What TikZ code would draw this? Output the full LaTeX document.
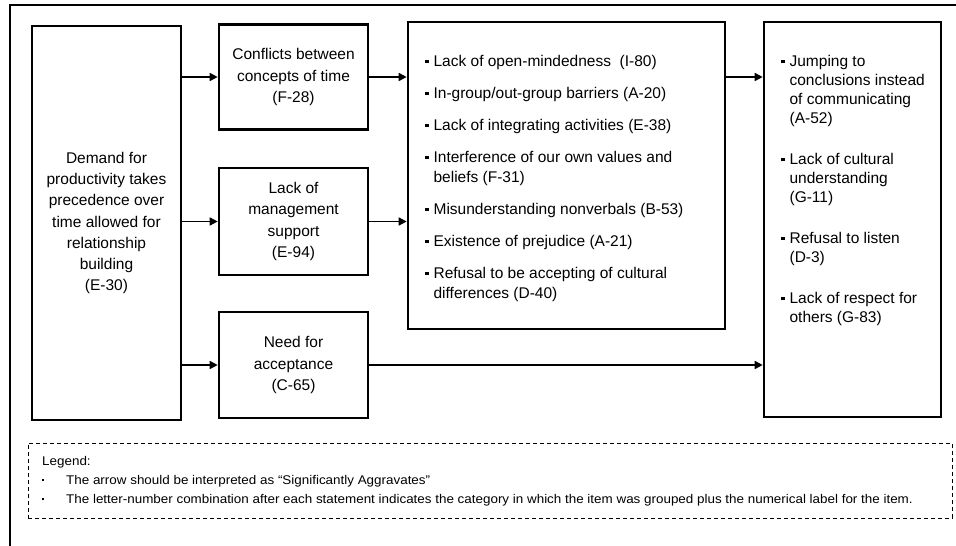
\documentclass[tikz,border=0pt]{standalone}
\usepackage{fontspec}
\setmainfont{Liberation Sans}
\newfontfamily\legendfamily[FakeStretch=1.065]{Liberation Sans}
\usetikzlibrary{arrows.meta}

% type sizes used in the chart
\newcommand\boxfont{\fontsize{15.5}{21.3}\selectfont}
\newcommand\listfont{\fontsize{15.5}{20}\selectfont}
\newcommand\sidefont{\fontsize{15.5}{19}\selectfont}
\newcommand\legfont{\legendfamily\fontsize{12.6}{19}\selectfont}
% small square bullet and the matching hanging indent
\newcommand\sqb{\raisebox{2.8pt}{\rule{3.4pt}{3.4pt}}\hspace{5pt}}
\newcommand\hangin{\hspace*{8.4pt}}
\newcommand\legb{\makebox[24pt][l]{\raisebox{3pt}{\rule{2.2pt}{2.2pt}}}}

\begin{document}
\begin{tikzpicture}[x=1pt,y=-1pt,
  box/.style={draw, line width=2.6pt, inner sep=0pt, align=center, font=\boxfont},
  listtext/.style={anchor=north west, inner sep=0pt, align=left},
  arr/.style={line width=1.5pt, -{Triangle[length=8pt,width=8pt]}},
  frame/.style={line width=2pt},
  legendbox/.style={draw, line width=1pt, dash pattern=on 4pt off 3pt, inner sep=0pt}]

\useasboundingbox (0,0) rectangle (956,546);
\fill[white] (0,0) rectangle (956,546);

% outer frame (runs off the page on the right and at the bottom)
\draw[frame] (10,560) -- (10,5) -- (970,5);

% cause boxes
\node[box, minimum width=149pt, minimum height=394pt] (demand) at (106.5,223)
  {Demand for\\productivity takes\\precedence over\\time allowed for\\relationship\\building\\(E-30)};
\node[box, minimum width=149pt, minimum height=105pt] (conflict) at (293.5,77)
  {Conflicts between\\concepts of time\\(F-28)};
\node[box, minimum width=149pt, minimum height=107pt] (mgmt) at (293.5,221.5)
  {Lack of\\management\\support\\(E-94)};
\node[box, minimum width=149pt, minimum height=106pt] (accept) at (293.5,365)
  {Need for\\acceptance\\(C-65)};

% barrier list
\node[box, minimum width=317pt, minimum height=307pt] (barriers) at (566.5,175.5) {};
\node[listtext, font=\listfont] (barrierlist) at (425,54.7)
  {\sqb Lack of open-mindedness\ \ (I-80)\\[12pt]
   \sqb In-group/out-group barriers (A-20)\\[12pt]
   \sqb Lack of integrating activities (E-38)\\[12pt]
   \sqb Interference of our own values and\\
   \hangin beliefs (F-31)\\[12pt]
   \sqb Misunderstanding nonverbals (B-53)\\[12pt]
   \sqb Existence of prejudice (A-21)\\[12pt]
   \sqb Refusal to be accepting of cultural\\
   \hangin differences (D-40)};

% outcome list
\node[box, minimum width=177pt, minimum height=395pt] (outcomes) at (852.5,219.5) {};
\node[listtext, font=\sidefont] (outcomelist) at (781,54.7)
  {\sqb Jumping to\\
   \hangin conclusions instead\\
   \hangin of communicating\\
   \hangin (A-52)\\[22pt]
   \sqb Lack of cultural\\
   \hangin understanding\\
   \hangin (G-11)\\[22pt]
   \sqb Refusal to listen\\
   \hangin (D-3)\\[22pt]
   \sqb Lack of respect for\\
   \hangin others (G-83)};

% connectors
\draw[arr] (demand.east |- conflict.west) -- (conflict.west);
\draw[arr] (demand.east |- mgmt.west) -- (mgmt.west);
\draw[arr] (demand.east |- accept.west) -- (accept.west);
\draw[arr] (conflict.east) -- (conflict.east -| barriers.west);
\draw[arr] (mgmt.east) -- (mgmt.east -| barriers.west);
\draw[arr] (barriers.east |- conflict.east) -- (conflict.east -| outcomes.west);
\draw[arr] (accept.east) -- (accept.east -| outcomes.west);

% legend
\node[legendbox, minimum width=924pt, minimum height=75pt] (legend) at (490,480.5) {};
\node[listtext, font=\legfont] (legendtext) at (42,456)
  {Legend:\\
   \legb The arrow should be interpreted as “Significantly Aggravates”\\
   \legb The letter-number combination after each statement indicates the category in which the item was grouped plus the numerical label for the item.};
\end{tikzpicture}
\end{document}
